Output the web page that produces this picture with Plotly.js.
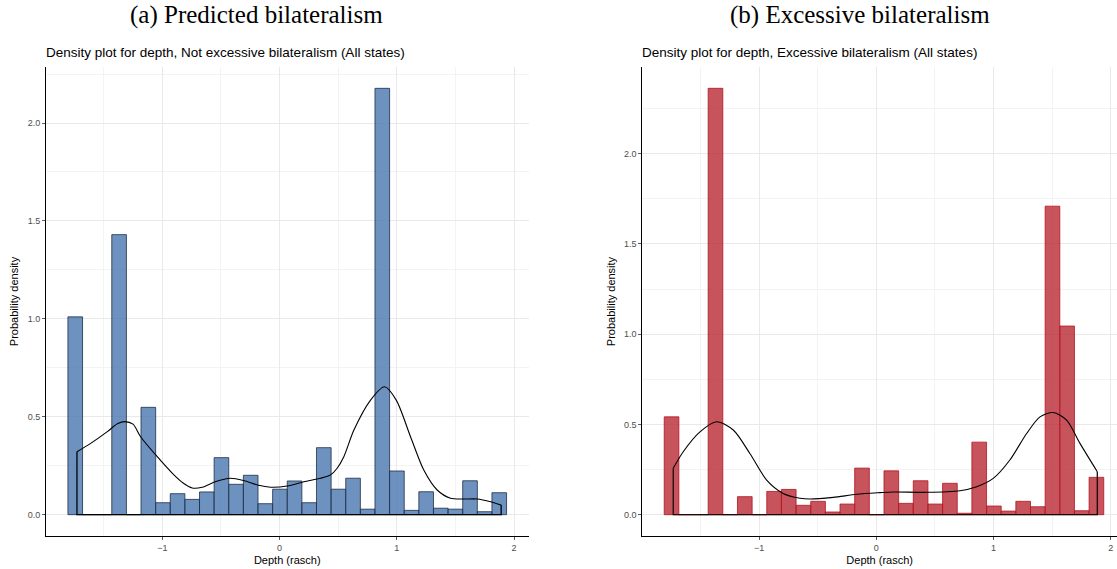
<!DOCTYPE html>
<html>
<head>
<meta charset="utf-8">
<script src="https://cdn.plot.ly/plotly-3.0.1.min.js"></script>
<style>html,body{margin:0;padding:0;background:#fff;}#chart{width:1117px;height:569px;}</style>
</head>
<body>
<div id="chart"></div>
<script>
// ---- Data: panel (a) Not excessive bilateralism ----
const binStartA = -1.805;
const binWidthA = 0.1247;
const densA = [1.010, 0, 0, 1.430, 0, 0.548, 0.061, 0.107, 0.078, 0.116,
               0.291, 0.155, 0.201, 0.056, 0.130, 0.172, 0.061, 0.342, 0.130, 0.186,
               0.028, 2.177, 0.223, 0.022, 0.117, 0.033, 0.028, 0.173, 0.015, 0.112];
const kdeAx = [-1.728, -1.611, -1.469, -1.38, -1.321, -1.25, -1.185, -1.043, -0.901, -0.82,
               -0.745, -0.66, -0.55, -0.418, -0.30, -0.18, -0.077, 0.065, 0.207, 0.35,
               0.435, 0.491, 0.548, 0.634, 0.776, 0.895, 0.995, 1.117, 1.230, 1.344,
               1.458, 1.57, 1.685, 1.80, 1.890];
const kdeAy = [0.321, 0.364, 0.424, 0.465, 0.475, 0.462, 0.398, 0.296, 0.203, 0.160,
               0.136, 0.140, 0.168, 0.186, 0.173, 0.150, 0.140, 0.146, 0.168, 0.186,
               0.203, 0.237, 0.296, 0.432, 0.585, 0.653, 0.585, 0.398, 0.228, 0.126,
               0.084, 0.080, 0.080, 0.066, 0.049];

// ---- Data: panel (b) Excessive bilateralism ----
const binStartB = -1.809;
const binWidthB = 0.1250;
const densB = [0.542, 0, 0, 2.362, 0, 0.100, 0, 0.129, 0.140, 0.052,
               0.074, 0.015, 0.059, 0.258, 0, 0.243, 0.063, 0.188, 0.059, 0.174,
               0.008, 0.402, 0.048, 0.020, 0.074, 0.044, 1.709, 1.045, 0.022, 0.207];
const kdeBx = [-1.732, -1.647, -1.504, -1.362, -1.220, -1.078, -0.935, -0.794, -0.651, -0.566,
               -0.367, -0.167, 0.032, 0.145, 0.430, 0.714, 0.857, 0.998, 1.140, 1.283,
               1.397, 1.510, 1.624, 1.738, 1.886];
const kdeBy = [0.257, 0.349, 0.459, 0.515, 0.469, 0.339, 0.192, 0.118, 0.091, 0.087,
               0.096, 0.113, 0.122, 0.126, 0.124, 0.133, 0.155, 0.201, 0.303, 0.450,
               0.542, 0.566, 0.524, 0.395, 0.238];

const titleA = "(a) Predicted bilateralism";
const titleB = "(b) Excessive bilateralism";
const subA = "Density plot for depth, Not excessive bilateralism (All states)";
const subB = "Density plot for depth, Excessive bilateralism (All states)";
const xLabel = "Depth (rasch)";
const yLabel = "Probability density";

function centers(start, w, n) { const c = []; for (let i = 0; i < n; i++) c.push(start + (i + 0.5) * w); return c; }
// vertical end edges and baseline of the density outline
function edges(xs, ys) {
  const n = xs.length - 1;
  return {x: [xs[0], xs[0], xs[n], xs[n]], y: [ys[0], 0, 0, ys[n]]};
}

const eA = edges(kdeAx, kdeAy);
const eB = edges(kdeBx, kdeBy);

const traces = [
  {type: 'bar', x: centers(binStartA, binWidthA, densA.length), y: densA, width: binWidthA,
   marker: {color: 'rgba(74,119,176,0.8)', line: {color: '#1d2d45', width: 0.8}},
   xaxis: 'x', yaxis: 'y'},
  {type: 'scatter', mode: 'lines', x: kdeAx, y: kdeAy, line: {color: '#000', width: 1.1, shape: 'spline', smoothing: 0.8},
   xaxis: 'x', yaxis: 'y'},
  {type: 'scatter', mode: 'lines', x: eA.x, y: eA.y, line: {color: '#000', width: 1.3},
   xaxis: 'x', yaxis: 'y'},
  {type: 'bar', x: centers(binStartB, binWidthB, densB.length), y: densB, width: binWidthB,
   marker: {color: 'rgba(185,40,52,0.8)', line: {color: '#b3141f', width: 0.8}},
   xaxis: 'x2', yaxis: 'y2'},
  {type: 'scatter', mode: 'lines', x: kdeBx, y: kdeBy, line: {color: '#000', width: 1.1, shape: 'spline', smoothing: 0.8},
   xaxis: 'x2', yaxis: 'y2'},
  {type: 'scatter', mode: 'lines', x: eB.x, y: eB.y, line: {color: '#1a0a0a', width: 1.3},
   xaxis: 'x2', yaxis: 'y2'}
];

const tickFont = {family: 'Liberation Sans, Arial, sans-serif', size: 9, color: '#4d4d4d'};
const titleFont = {family: 'Liberation Sans, Arial, sans-serif', size: 11, color: '#000'};
function xax(domain, range) {
  return {domain, range, showline: true, linecolor: '#000', linewidth: 1, ticks: 'outside', ticklen: 3,
    tickcolor: '#333', tickwidth: 0.8, tickfont: tickFont, dtick: 1, tick0: 0, zeroline: false,
    showgrid: true, gridcolor: '#e9e9e9', gridwidth: 1,
    minor: {dtick: 0.5, tick0: 0, showgrid: true, gridcolor: '#f3f3f3', gridwidth: 1},
    title: {text: xLabel, font: titleFont, standoff: 4}, fixedrange: true};
}
function yax(domain, range, anchor) {
  return {domain, range, anchor, showline: true, linecolor: '#000', linewidth: 1, ticks: 'outside', ticklen: 3,
    tickcolor: '#333', tickwidth: 0.8, tickfont: tickFont, dtick: 0.5, tick0: 0, tickformat: '.1f', zeroline: false,
    showgrid: true, gridcolor: '#e9e9e9', gridwidth: 1,
    minor: {dtick: 0.25, tick0: 0, showgrid: true, gridcolor: '#f3f3f3', gridwidth: 1},
    title: {text: yLabel, font: titleFont, standoff: 6}, fixedrange: true};
}

const yDom = [1 - 536 / 569, 1 - 67 / 569];
const layout = {
  width: 1117, height: 569, margin: {l: 0, r: 0, t: 0, b: 0},
  paper_bgcolor: '#fff', plot_bgcolor: '#fff', showlegend: false, bargap: 0,
  xaxis: Object.assign(xax([46 / 1117, 528.5 / 1117], [-1.992, 2.123]), {anchor: 'y'}),
  yaxis: yax(yDom, [-0.109, 2.286], 'x'),
  xaxis2: Object.assign(xax([642.3 / 1117, 1], [-1.996, 2.054]), {anchor: 'y2'}),
  yaxis2: yax(yDom, [-0.118, 2.480], 'x2'),
  annotations: [
    {text: titleA, xref: 'paper', yref: 'paper', x: 256 / 1117, y: 1 - 15 / 569, xanchor: 'center', yanchor: 'middle',
     showarrow: false, font: {family: 'Liberation Serif, Times New Roman, serif', size: 25, color: '#000'}},
    {text: titleB, xref: 'paper', yref: 'paper', x: 860 / 1117, y: 1 - 15 / 569, xanchor: 'center', yanchor: 'middle',
     showarrow: false, font: {family: 'Liberation Serif, Times New Roman, serif', size: 25, color: '#000'}},
    {text: subA, xref: 'paper', yref: 'paper', x: 44 / 1117, y: 1 - 52 / 569, xanchor: 'left', yanchor: 'middle',
     showarrow: false, font: {family: 'Liberation Sans, Arial, sans-serif', size: 13.5, color: '#000'}},
    {text: subB, xref: 'paper', yref: 'paper', x: 640 / 1117, y: 1 - 52 / 569, xanchor: 'left', yanchor: 'middle',
     showarrow: false, font: {family: 'Liberation Sans, Arial, sans-serif', size: 13.5, color: '#000'}}
  ]
};

Plotly.newPlot('chart', traces, layout, {displayModeBar: false, staticPlot: true});
</script>
</body>
</html>
